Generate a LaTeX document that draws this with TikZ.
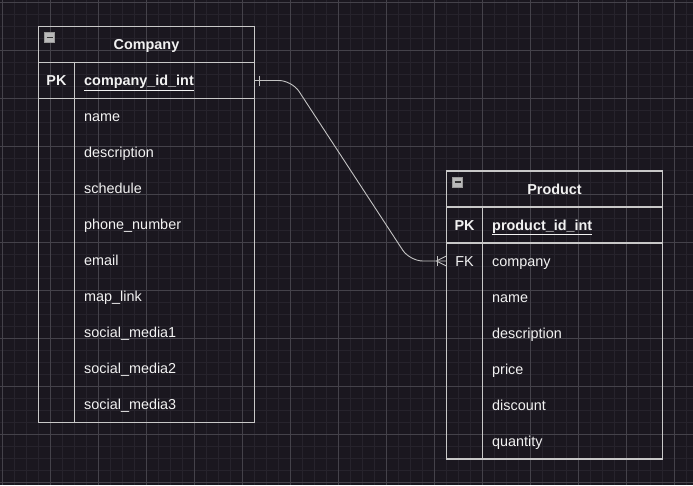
\documentclass[tikz,border=0pt]{standalone}
\usepackage{fontspec}
\setmainfont{Liberation Sans}
\definecolor{bgcol}{RGB}{26,23,31}
\definecolor{minorcol}{RGB}{38,35,44}
\definecolor{majorcol}{RGB}{68,66,74}
\definecolor{linecol}{RGB}{200,200,200}
\definecolor{txtcol}{RGB}{242,242,242}
\begin{document}
\begin{tikzpicture}
	 [x=1pt,y=-1pt,
	  every node/.style={text=txtcol,font=\fontsize{14.4}{17}\selectfont,text height=13pt,text depth=3pt},
	  tbl/.style={draw=linecol,line width=1.1pt},
	  title/.style={font=\fontsize{14.4}{17}\selectfont\bfseries},
	  key/.style={minimum width=36pt,minimum height=36pt,inner sep=0pt},
	  field/.style={anchor=west,minimum width=180pt,minimum height=36pt,text width=161pt,inner xsep=9.5pt,align=left},
	  collapse/.style={draw=gray!80,fill=gray!55!white,minimum size=10pt,inner sep=0pt,text height=0pt,text depth=0pt,
	    path picture={\draw[black!80,line width=1.6pt] ([xshift=2pt]path picture bounding box.west) -- ([xshift=-2pt]path picture bounding box.east);}},
	  rel/.style={draw=linecol!110,line width=0.9pt}]

	\useasboundingbox (0,0) rectangle (693,485);
	\fill[bgcol] (0,0) rectangle (693,485);

	% grid
	\foreach \i in {0,...,57}
    \draw[minorcol,line width=0.8pt] ({2.3+12*\i},0) -- ({2.3+12*\i},485);
	\foreach \j in {0,...,40}
    \draw[minorcol,line width=0.8pt] (0,{2+12*\j}) -- (693,{2+12*\j});
	\foreach \i in {0,...,14}
    \draw[majorcol,line width=0.8pt] ({2.3+48*\i},0) -- ({2.3+48*\i},485);
	\foreach \j in {0,...,10}
    \draw[majorcol,line width=0.8pt] (0,{2+48*\j}) -- (693,{2+48*\j});

	% Company
	\draw[tbl] (38.5,26.5) rectangle (254.5,422.5);
	\draw[tbl] (38.5,62.5) -- (254.5,62.5);
	\draw[tbl] (38.5,98.5) -- (254.5,98.5);
	\draw[tbl] (74.5,62.5) -- (74.5,422.5);

	  \node[collapse] (cm) at (49.5,37.5) {};
	  \node[title] (c0) at (146.5,44.5) {Company};
	  \node[key,title] (ck1) at (56.5,80.5) {PK};
	  \node[field,title] (c1) at (74.5,80.5) {\underline{company\_id\_int}};
	\foreach \t [count=\i from 2] in {name,description,schedule,phone\_number,email,map\_link,social\_media1,social\_media2,social\_media3}
	  \node[field] (c\i) at (74.5,{44.5+36*\i}) {\t};

	% Product
	\draw[tbl] (446.5,171) rectangle (662.5,459);
	\draw[tbl] (446.5,207) -- (662.5,207);
	\draw[tbl] (446.5,243) -- (662.5,243);
	\draw[tbl] (482.5,207) -- (482.5,459);

	  \node[collapse] (pm) at (457.5,181.7) {};
	  \node[title] (p0) at (554.5,189) {Product};
	  \node[key,title] (pk1) at (464.5,225) {PK};
	  \node[field,title] (p1) at (482.5,225) {\underline{product\_id\_int}};
	  \node[key] (pk2) at (464.5,261) {FK};
	\foreach \t [count=\i from 2] in {company,name,description,price,discount,quantity}
	  \node[field] (p\i) at (482.5,{189+36*\i}) {\t};

	% relation
	\draw[rel,rounded corners=13pt] (c1.east) -- ++(37,0) -- ([xshift=-36.5pt]pk2.west) -- (pk2.west);
	\draw[rel] ([xshift=4.8pt,yshift=5pt]c1.east) -- ([xshift=4.8pt,yshift=-5pt]c1.east);
	\draw[rel] ([xshift=-9.8pt]pk2.west) -- ([yshift=5pt]pk2.west)
	           ([xshift=-9.8pt]pk2.west) -- ([yshift=-5pt]pk2.west);
	\draw[rel] ([xshift=-9pt,yshift=5pt]pk2.west) -- ([xshift=-9pt,yshift=-5pt]pk2.west);

\end{tikzpicture}
\end{document}
